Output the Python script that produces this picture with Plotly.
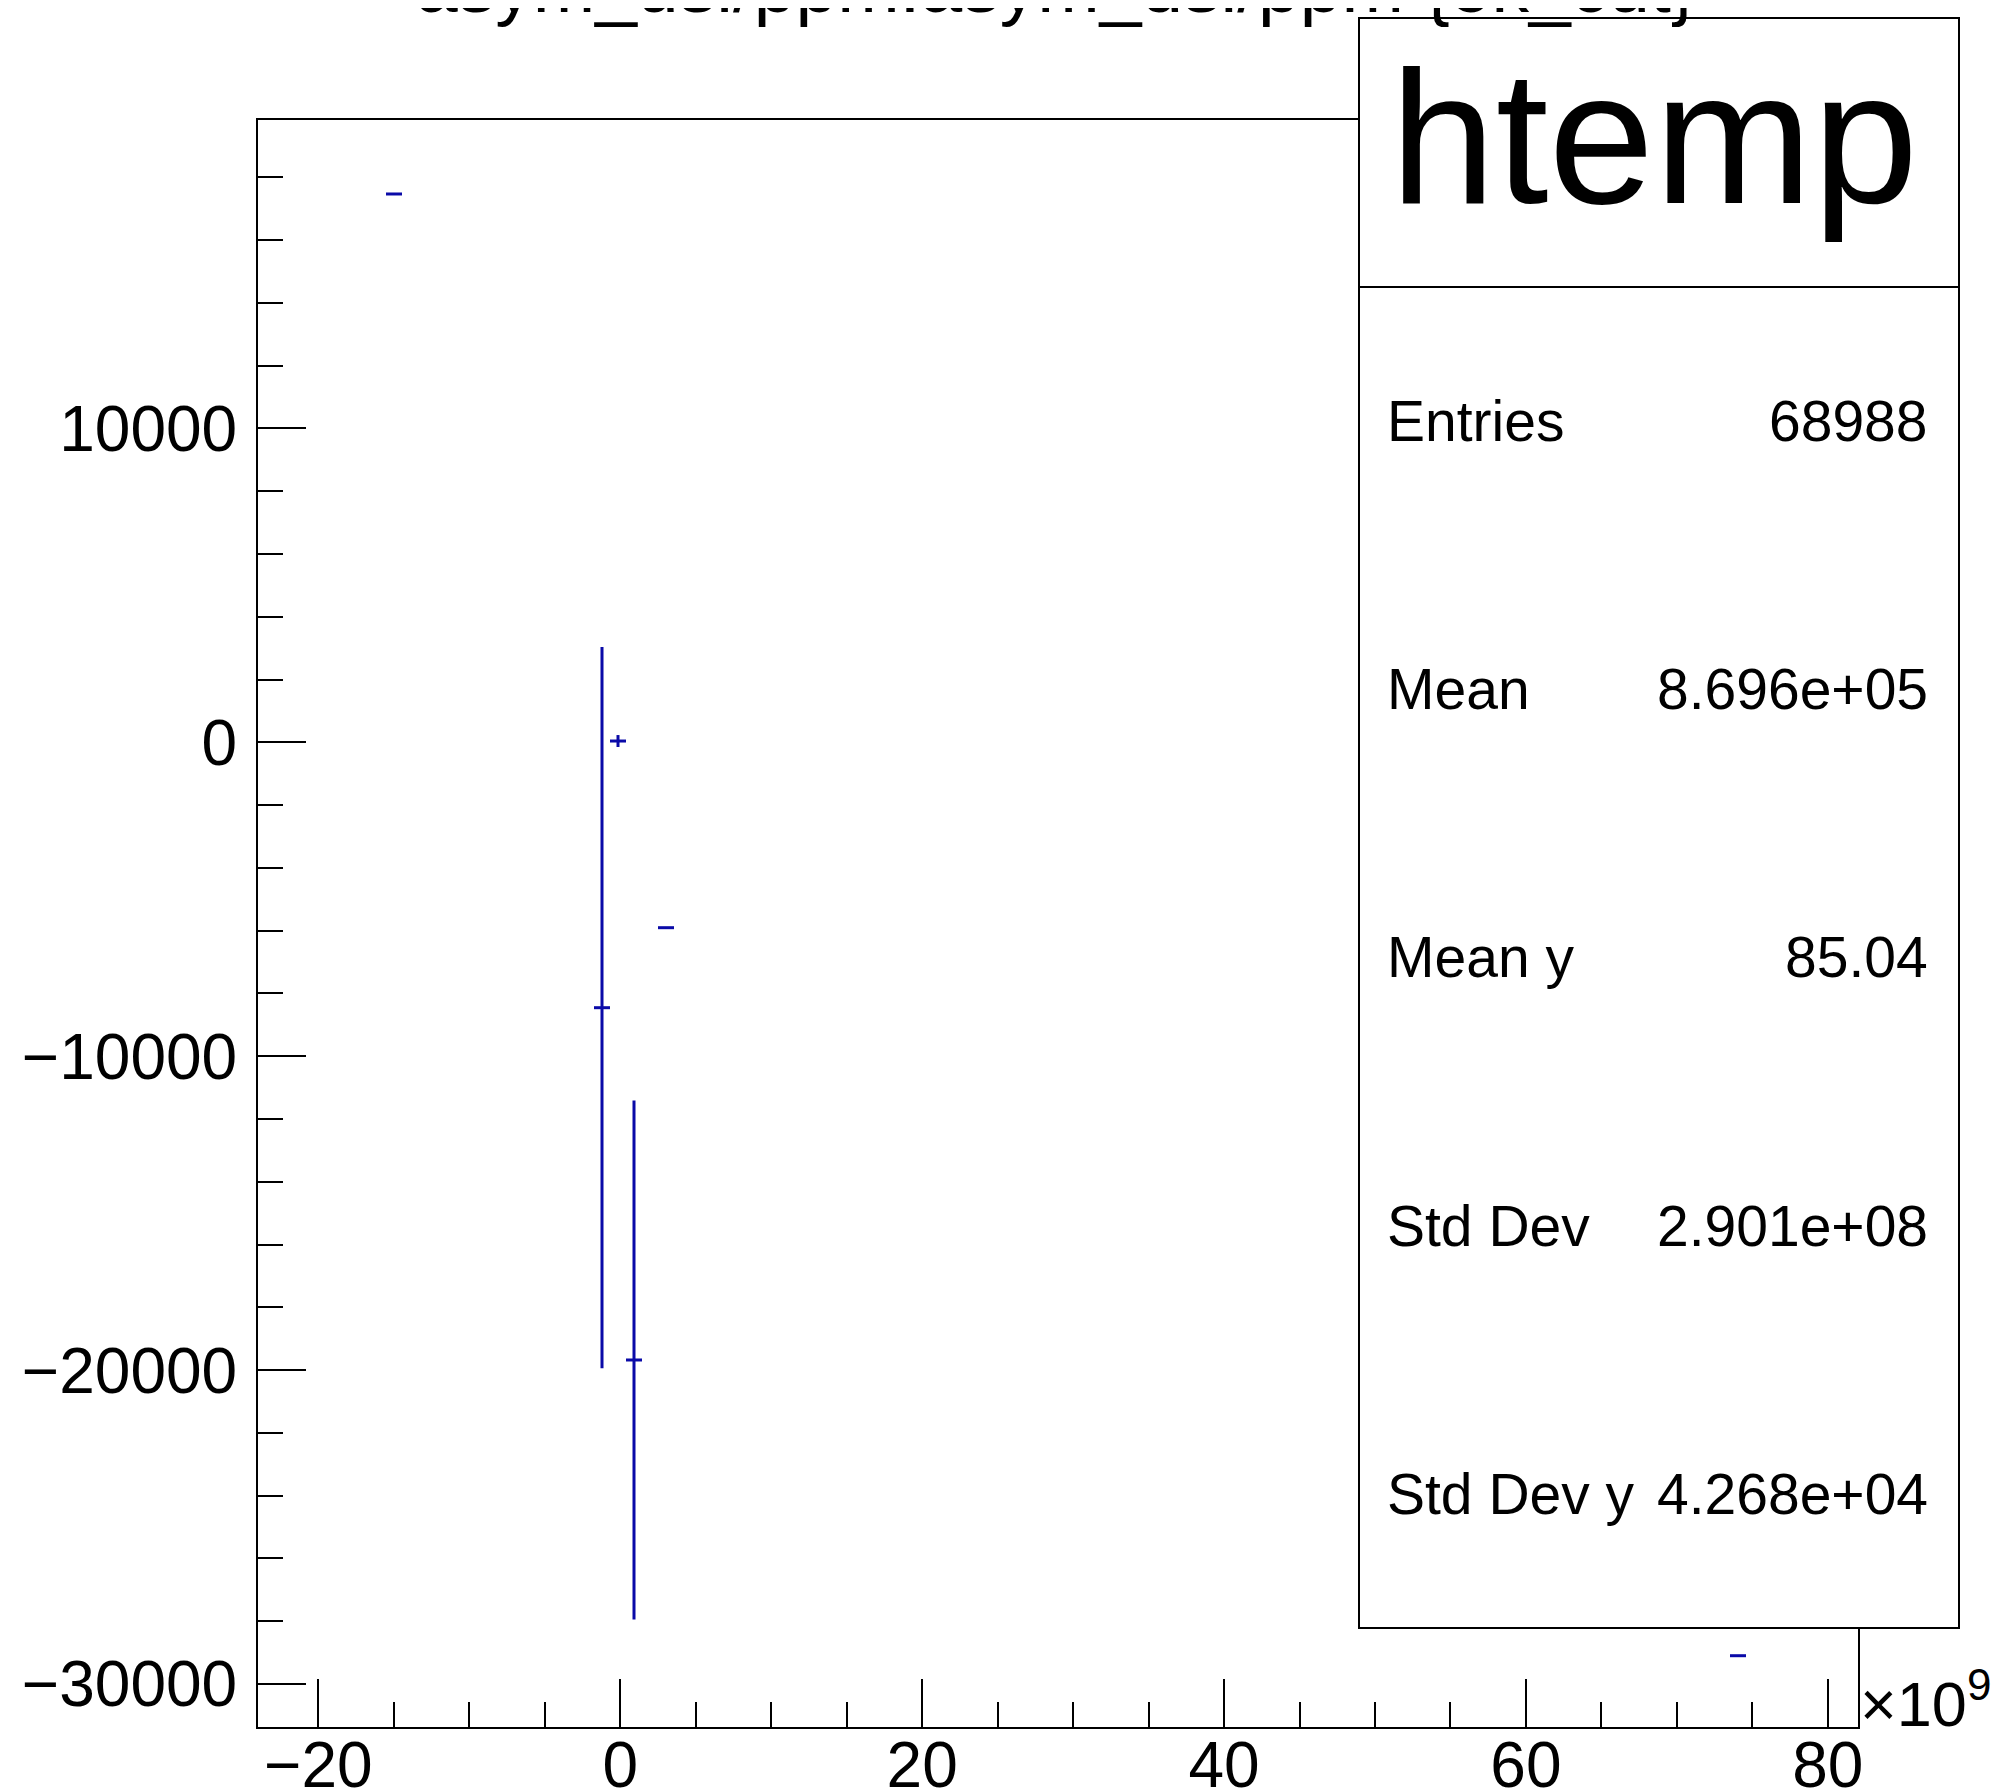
import plotly.graph_objects as go

# ---------------- data (x in units of 1e9) ----------------
bin_centers_e9 = [-14.99, -1.21, -0.15, 0.91, 3.03, 74.05]
bin_half_width_e9 = [0.53, 0.53, 0.53, 0.53, 0.53, 0.53]
profile_means = [17468, -8455, 41, -19678, -5906, -29099]
profile_errors = [0, 11490, 190, 8270, 0, 0]

x_tick_values = [-20, 0, 20, 40, 60, 80]
x_tick_labels = ["\u221220", "0", "20", "40", "60", "80"]
y_tick_values = [-30000, -20000, -10000, 0, 10000]
y_tick_labels = ["\u221230000", "\u221220000", "\u221210000", "0", "10000"]

stats_labels = ["Entries", "Mean", "Mean y", "Std Dev", "Std Dev y"]
stats_values = ["68988", "8.696e+05", "85.04", "2.901e+08", "4.268e+04"]

title_text = "asym_usl/ppm:asym_dsl/ppm {ok_cut}"
stats_title = "htemp"

# ---------------- layout geometry (screen pixels) ----------------
OFF = 8  # page body margin
W, H = 2001 - OFF, 1792 - OFF
PL, PR, PT, PB = 258, 1858, 120, 1727
FONT = "Liberation Sans, Arial, Helvetica, sans-serif"
LINE = "#0a0aa8"


def px_x(px):
    return (px - PL) / (PR - PL)


def px_y(py):
    return (PB - py) / (PB - PT)


fig = go.Figure()
fig.add_trace(go.Scatter(
    x=bin_centers_e9,
    y=profile_means,
    mode="markers",
    marker=dict(size=1, color=LINE),
    error_x=dict(type="data", array=bin_half_width_e9, thickness=3, width=0, color=LINE),
    error_y=dict(type="data", array=profile_errors, thickness=3, width=0, color=LINE),
    showlegend=False,
    hoverinfo="x+y",
))

# stats box
BX0, BX1, BY0, BY1, BDIV = 1359, 1959, 18, 1628, 287
shapes = [
    dict(type="rect", xref="paper", yref="paper",
         x0=px_x(BX0), x1=px_x(BX1), y0=px_y(BY1), y1=px_y(BY0),
         line=dict(color="black", width=2), fillcolor="white", layer="above"),
    dict(type="line", xref="paper", yref="paper",
         x0=px_x(BX0), x1=px_x(BX1), y0=px_y(BDIV), y1=px_y(BDIV),
         line=dict(color="black", width=2), layer="above"),
]

annotations = [
    dict(text=stats_title, xref="paper", yref="paper",
         x=px_x(1654), y=px_y(137), xanchor="center", yanchor="middle",
         showarrow=False, font=dict(family=FONT, size=190, color="black")),
    dict(text="\u00d710<sup>9</sup>", xref="paper", yref="paper",
         x=px_x(1858), y=px_y(1741), xanchor="left", yanchor="bottom",
         showarrow=False, font=dict(family=FONT, size=63, color="black")),
]
row_top = BDIV
row_h = (BY1 - BDIV) / len(stats_labels)
for i, (lab, val) in enumerate(zip(stats_labels, stats_values)):
    cy = row_top + row_h * (i + 0.5)
    annotations.append(dict(text=lab, xref="paper", yref="paper",
                            x=px_x(1385), y=px_y(cy), xanchor="left", yanchor="middle",
                            showarrow=False, font=dict(family=FONT, size=57, color="black")))
    annotations.append(dict(text=val, xref="paper", yref="paper",
                            x=px_x(1930), y=px_y(cy), xanchor="right", yanchor="middle",
                            showarrow=False, font=dict(family=FONT, size=57, color="black")))

fig.update_layout(
    template="none",
    width=W, height=H,
    margin=dict(l=PL - OFF, r=(2001 - PR), t=PT - OFF, b=(1792 - PB), pad=0, autoexpand=False),
    paper_bgcolor="white", plot_bgcolor="white",
    title=dict(text=title_text, x=(1056 - OFF) / W, xanchor="center",
               y=1 - 4 / H, yanchor="bottom", yref="container",
               font=dict(family=FONT, size=75, color="black")),
    xaxis=dict(range=[-24, 82], showgrid=False, zeroline=False, automargin=False,
               showline=True, mirror=True, linecolor="black", linewidth=2,
               ticks="inside", ticklen=48, tickwidth=2, tickcolor="black",
               tickvals=x_tick_values, ticktext=x_tick_labels,
               ticklabelstandoff=-19,
               minor=dict(ticks="inside", ticklen=25, tickwidth=2, tickcolor="black",
                          dtick=5, tick0=0, showgrid=False),
               tickfont=dict(family=FONT, size=64, color="black")),
    yaxis=dict(range=[-31370, 19825], showgrid=False, zeroline=False, automargin=False,
               showline=True, mirror=True, linecolor="black", linewidth=2,
               ticks="inside", ticklen=48, tickwidth=2, tickcolor="black",
               tickvals=y_tick_values, ticktext=y_tick_labels,
               ticklabelstandoff=6,
               minor=dict(ticks="inside", ticklen=25, tickwidth=2, tickcolor="black",
                          dtick=2000, tick0=0, showgrid=False),
               tickfont=dict(family=FONT, size=64, color="black")),
    shapes=shapes,
    annotations=annotations,
)

fig.write_html("out.html")
